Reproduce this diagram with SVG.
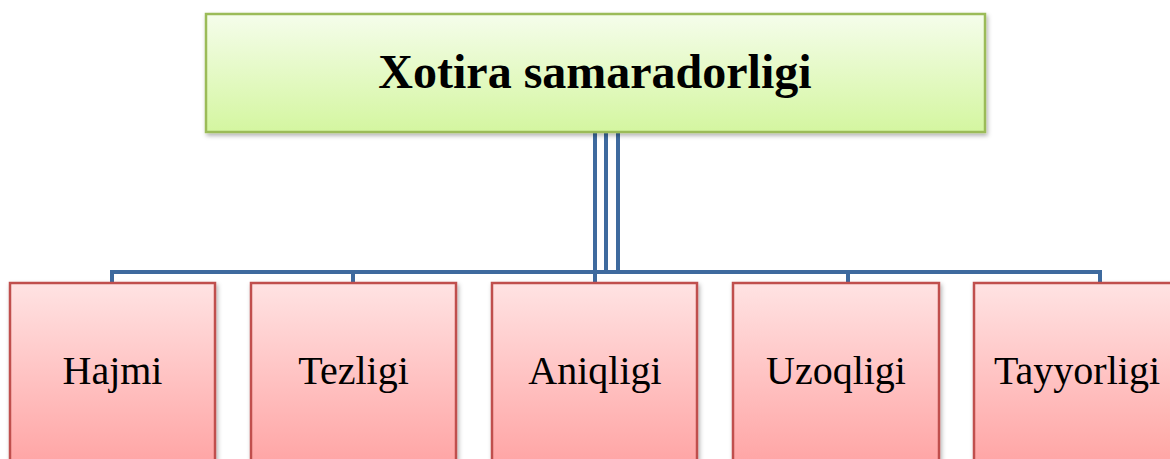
<svg xmlns="http://www.w3.org/2000/svg" width="1170" height="459" viewBox="0 0 1170 459">
  <style>
    .conn { fill: none; stroke: #3e6a9e; stroke-width: 4; stroke-linejoin: miter; }
    .child rect { fill: url(#redGrad); stroke: #c0504d; stroke-width: 2.5; filter: url(#shadow); }
    .child text { font-family: "Liberation Serif", "Times New Roman", serif; font-size: 40px; fill: #000; text-anchor: middle; }
    .root rect { fill: url(#greenGrad); stroke: #9bbb59; stroke-width: 2.5; filter: url(#shadow); }
    .root text { font-family: "Liberation Serif", "Times New Roman", serif; font-size: 48px; font-weight: bold; fill: #000; text-anchor: middle; }
  </style>
  <defs>
    <linearGradient id="greenGrad" x1="0" y1="0" x2="0" y2="1">
      <stop offset="0" stop-color="#f5fdeb"/>
      <stop offset="1" stop-color="#d4f6a0"/>
    </linearGradient>
    <linearGradient id="redGrad" x1="0" y1="0" x2="0" y2="1">
      <stop offset="0" stop-color="#ffe3e3"/>
      <stop offset="1" stop-color="#ff9e9e"/>
    </linearGradient>
    <filter id="shadow" x="-5%" y="-5%" width="115%" height="120%">
      <feDropShadow dx="1.5" dy="2.5" stdDeviation="2" flood-color="#000" flood-opacity="0.3"/>
    </filter>
  </defs>
  <rect width="1170" height="459" fill="#fff"/>

  <g id="connectors">
    <path class="conn" d="M595,132 V272 H112 V283"/>
    <path class="conn" d="M606,132 V272 H353 V283"/>
    <path class="conn" d="M595,132 V283"/>
    <path class="conn" d="M618,132 V272 H848 V283"/>
    <path class="conn" d="M618,132 V272 H1100 V283"/>
    <path class="conn" d="M595,272 H618"/>
  </g>

  <g id="root" class="root">
    <rect x="206" y="14" width="779" height="118"/>
    <text x="595" y="88">Xotira samaradorligi</text>
  </g>

  <g id="hajmi" class="child">
    <rect x="10" y="283" width="205" height="200"/>
    <text x="112.5" y="384">Hajmi</text>
  </g>
  <g id="tezligi" class="child">
    <rect x="251" y="283" width="205" height="200"/>
    <text x="353.5" y="384">Tezligi</text>
  </g>
  <g id="aniqligi" class="child">
    <rect x="492" y="283" width="205" height="200"/>
    <text x="595" y="384">Aniqligi</text>
  </g>
  <g id="uzoqligi" class="child">
    <rect x="733" y="283" width="206" height="200"/>
    <text x="836" y="384">Uzoqligi</text>
  </g>
  <g id="tayyorligi" class="child">
    <rect x="974" y="283" width="206" height="200"/>
    <text x="1077" y="384">Tayyorligi</text>
  </g>
</svg>
